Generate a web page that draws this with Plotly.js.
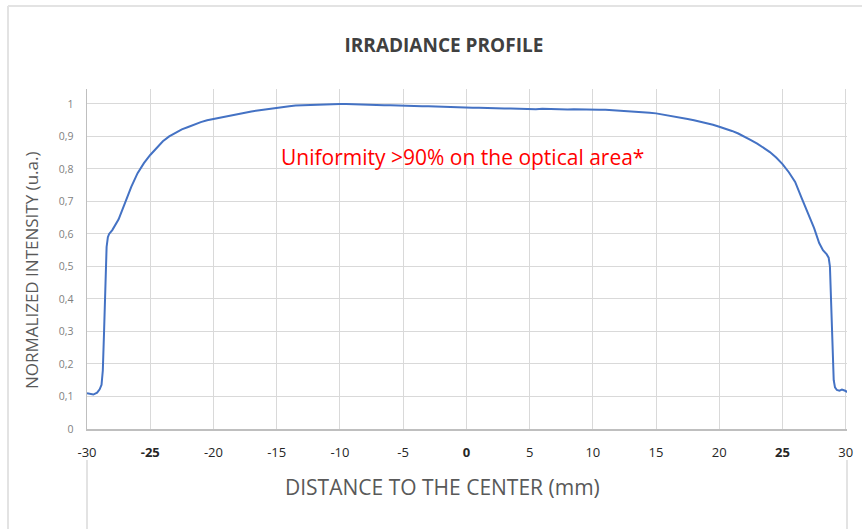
<!DOCTYPE html>
<html>
<head>
<meta charset="utf-8">
<script src="https://cdn.plot.ly/plotly-3.0.1.min.js"></script>
<style>html,body{margin:0;padding:0;background:#fff;}#chart{width:862px;height:529px;}</style>
</head>
<body>
<div id="chart"></div>
<script>
const distance = [-30, -29.7, -29.5, -29.2, -29, -28.85, -28.75, -28.65, -28.55, -28.45, -28.35, -28.25, -28, -27.5, -27, -26.5, -26, -25.5, -25, -24.5, -24, -23.5, -23, -22.5, -22, -21.5, -21, -20.5, -20, -19.5, -19, -18.5, -18, -17.5, -17, -16.5, -16, -15.5, -15, -14.5, -14, -13.5, -13, -12.5, -12, -11.5, -11, -10.5, -10, -9.5, -9, -8.5, -8, -7.5, -7, -6.5, -6, -5.5, -5, -4.5, -4, -3.5, -3, -2.5, -2, -1.5, -1, -0.5, 0, 0.5, 1, 1.5, 2, 2.5, 3, 3.5, 4, 4.5, 5, 5.5, 6, 6.5, 7, 7.5, 8, 8.5, 9, 9.5, 10, 10.5, 11, 11.5, 12, 12.5, 13, 13.5, 14, 14.5, 15, 15.5, 16, 16.5, 17, 17.5, 18, 18.5, 19, 19.5, 20, 20.5, 21, 21.5, 22, 22.5, 23, 23.5, 24, 24.5, 25, 25.5, 26, 26.5, 27, 27.5, 27.9, 28.2, 28.5, 28.65, 28.75, 28.85, 28.95, 29.05, 29.15, 29.3, 29.5, 29.7, 29.85, 30, 30.1];
const intensity = [0.110, 0.108, 0.106, 0.112, 0.122, 0.136, 0.180, 0.300, 0.450, 0.560, 0.590, 0.600, 0.612, 0.645, 0.695, 0.745, 0.787, 0.818, 0.843, 0.865, 0.885, 0.900, 0.912, 0.922, 0.929, 0.937, 0.944, 0.950, 0.954, 0.959, 0.963, 0.967, 0.970, 0.974, 0.977, 0.980, 0.983, 0.986, 0.989, 0.992, 0.993, 0.995, 0.996, 0.997, 0.998, 0.997, 0.999, 0.999, 1.000, 1.000, 0.999, 0.998, 0.998, 0.997, 0.997, 0.996, 0.996, 0.995, 0.995, 0.994, 0.994, 0.993, 0.993, 0.992, 0.991, 0.991, 0.990, 0.990, 0.989, 0.988, 0.988, 0.987, 0.987, 0.986, 0.986, 0.986, 0.985, 0.985, 0.985, 0.984, 0.985, 0.984, 0.984, 0.984, 0.983, 0.984, 0.983, 0.983, 0.983, 0.982, 0.982, 0.981, 0.980, 0.979, 0.978, 0.977, 0.975, 0.973, 0.971, 0.968, 0.965, 0.962, 0.958, 0.954, 0.950, 0.946, 0.941, 0.936, 0.930, 0.924, 0.917, 0.909, 0.900, 0.889, 0.878, 0.866, 0.852, 0.835, 0.815, 0.790, 0.760, 0.712, 0.665, 0.618, 0.572, 0.550, 0.537, 0.527, 0.500, 0.380, 0.220, 0.150, 0.128, 0.120, 0.118, 0.121, 0.119, 0.117, 0.113];

const xTickVals = [-30, -25, -20, -15, -10, -5, 0, 5, 10, 15, 20, 25, 30];
const xTickText = ['-30', '<b>-25</b>', '-20', '-15', '-10', '-5', '<b>0</b>', '5', '10', '15', '20', '<b>25</b>', '30'];
const yTickVals = [0, 0.1, 0.2, 0.3, 0.4, 0.5, 0.6, 0.7, 0.8, 0.9, 1];
const yTickText = ['0', '0,1', '0,2', '0,3', '0,4', '0,5', '0,6', '0,7', '0,8', '0,9', '1'];

const titleText = 'IRRADIANCE PROFILE';
const xTitle = 'DISTANCE TO THE CENTER (mm)';
const yTitle = 'NORMALIZED INTENSITY (u.a.)';
const noteText = 'Uniformity >90% on the optical area*';

const font = 'Open Sans, Noto Sans, sans-serif';

const trace = {
  x: distance, y: intensity, type: 'scatter', mode: 'lines',
  line: {color: '#4472C4', width: 2}, hoverinfo: 'skip'
};

const layout = {
  width: 862, height: 529,
  margin: {l: 87, r: 15, t: 89, b: 100, pad: 0},
  paper_bgcolor: '#ffffff', plot_bgcolor: '#ffffff',
  showlegend: false,
  font: {family: font, color: '#595959'},
  title: {text: '<b>' + titleText + '</b>', font: {family: font, size: 19, color: '#404040'},
          x: 0.515, xanchor: 'center', y: 1 - 45/529, yanchor: 'middle'},
  xaxis: {
    range: [-30, 30.1], tickmode: 'array', tickvals: xTickVals, ticktext: xTickText,
    showgrid: true, gridcolor: '#d9d9d9', gridwidth: 1,
    showline: true, linecolor: '#bfbfbf', linewidth: 1.5, zeroline: false,
    ticks: 'outside', ticklen: 11, tickcolor: 'rgba(0,0,0,0)',
    tickfont: {family: font, size: 13, color: '#262626'},
    fixedrange: true
  },
  yaxis: {
    range: [0, 1.046], tickmode: 'array', tickvals: yTickVals, ticktext: yTickText,
    showgrid: true, gridcolor: '#d9d9d9', gridwidth: 1,
    showline: true, linecolor: '#bfbfbf', linewidth: 1.5, zeroline: false,
    ticks: 'outside', ticklen: 10, tickcolor: 'rgba(0,0,0,0)',
    tickfont: {family: font, size: 10.5, color: '#7f7f7f'},
    fixedrange: true
  },
  annotations: [
    {text: noteText, x: -0.3, y: 0.836, xref: 'x', yref: 'y',
     xanchor: 'center', yanchor: 'middle', showarrow: false,
     font: {family: font, size: 21, color: '#ff0000'}},
    {text: xTitle, x: (442-87)/760, y: (429-487)/340, xref: 'paper', yref: 'paper',
     xanchor: 'center', yanchor: 'middle', showarrow: false,
     font: {family: font, size: 21, color: '#595959'}},
    {text: yTitle, x: (31-87)/760, y: (429-271)/340, xref: 'paper', yref: 'paper',
     xanchor: 'center', yanchor: 'middle', showarrow: false, textangle: -90,
     font: {family: font, size: 17, color: '#595959'}}
  ],
  shapes: [
    {type: 'line', xref: 'paper', yref: 'paper', x0: (8-87)/760, x1: (8-87)/760, y0: (429-6)/340, y1: (429-529)/340, line: {color: '#e3e3e3', width: 2}},
    {type: 'line', xref: 'paper', yref: 'paper', x0: (8-87)/760, x1: (862-87)/760, y0: (429-6)/340, y1: (429-6)/340, line: {color: '#e3e3e3', width: 2}},
    {type: 'line', xref: 'paper', yref: 'paper', x0: 0, x1: 0, y0: (429-460)/340, y1: (429-529)/340, line: {color: '#e3e3e3', width: 2}},
    {type: 'line', xref: 'paper', yref: 'paper', x0: 1, x1: 1, y0: (429-460)/340, y1: (429-529)/340, line: {color: '#e3e3e3', width: 2}}
  ]
};

Plotly.newPlot('chart', [trace], layout, {displayModeBar: false, staticPlot: true});
</script>
</body>
</html>
